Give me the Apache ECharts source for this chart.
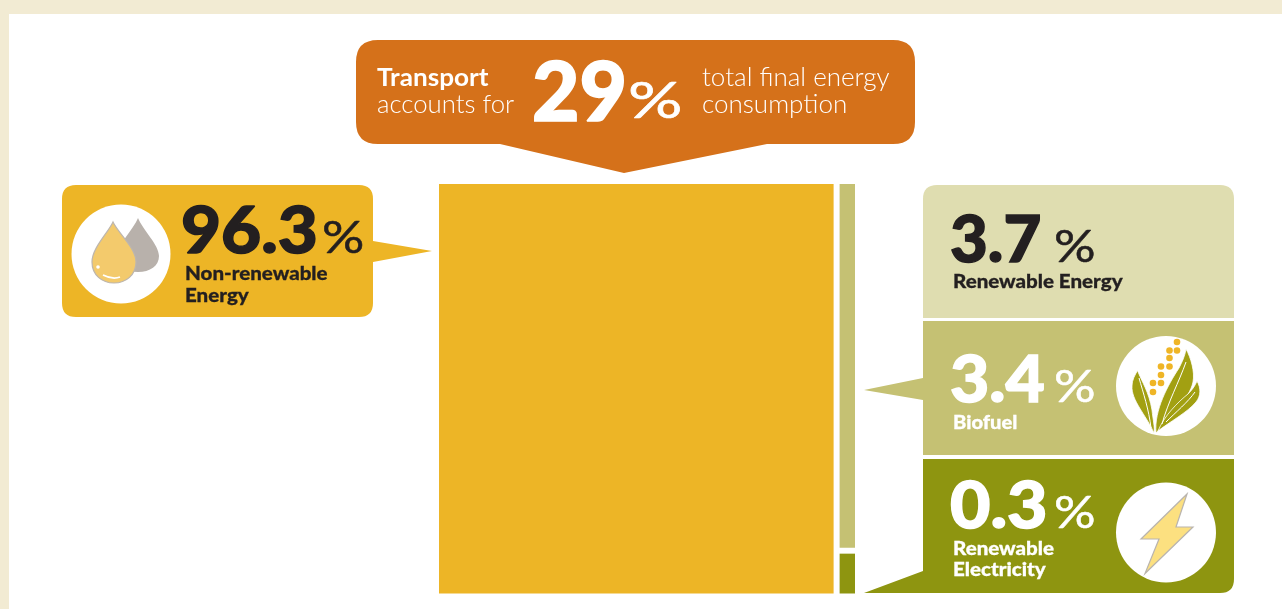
<!DOCTYPE html>
<html>
<head>
<meta charset="utf-8">
<style>html,body{margin:0;padding:0;background:#fff}#chart{width:1282px;height:609px}</style>
<script src="https://cdn.jsdelivr.net/npm/echarts@6/dist/echarts.min.js"></script>
</head>
<body>
<div id="chart"></div>
<script>
// Chart data
const shareLabels = ['96.3', '3.7', '3.4', '0.3'];
const shareNames = ['Non-renewable\nEnergy', 'Renewable Energy', 'Biofuel', 'Renewable\nElectricity'];
const transportShare = '29';
const transportLead = ['Transport', 'accounts for'];
const transportTail = ['total final energy', 'consumption'];
// Width of each column along the 0-100 axis
const columnWidths = [96.3, 3.7];
// Heights of the tiles as drawn in the picture (not to scale with their labels)
const renewableDrawnHeights = [3.34, 0.36];
const tileNames = ['Non-renewable Energy', 'Biofuel', 'Renewable Electricity'];
const tileColors = ['#EDB526', '#C5C173', '#8E9510'];

const colTotal = renewableDrawnHeights[0] + renewableDrawnHeights[1];
const tiles = [
  [0, columnWidths[0], 0, colTotal, 0],
  [columnWidths[0], columnWidths[0] + columnWidths[1], 0, renewableDrawnHeights[0], 1],
  [columnWidths[0], columnWidths[0] + columnWidths[1], renewableDrawnHeights[0], colTotal, 2]
];

const FONT = 'Lato, "Open Sans", sans-serif';
const DARK = '#231F20', WHITE = '#FFFFFF';
function t(x, base, text, size, weight, fill, extra) {
  const o = extra || {};
  const lines = String(text).split('\n');
  const lh = o.lh || size;
  return lines.map((s, i) => {
    const style = {
      x: x, y: base + i * lh - size * 0.33, text: s, fill: fill,
      font: weight + ' ' + size + 'px ' + FONT,
      verticalAlign: 'middle', align: 'left'
    };
    if (o.bold) { style.stroke = fill; style.lineWidth = o.bold; }
    return {
      type: 'text', z: 10, silent: true,
      originX: x, originY: 0, scaleX: o.sx || 1,
      style: style
    };
  });
}
let shapeId = 0;
function p(d, fill, extra) {
  const name = 'decorShape' + (shapeId++);
  echarts.graphic.registerShape(name, echarts.graphic.extendPath(d, {}));
  return {
    type: name, z: 5, silent: true,
    style: Object.assign({ fill: fill }, extra || {})
  };
}
function circle(cx, cy, r, fill) {
  return { type: 'circle', z: 6, silent: true, shape: { cx: cx, cy: cy, r: r }, style: { fill: fill } };
}

const LEAF = '#A2A012';
const ICON_DX = -4;
const corn = [[1181,342],[1173.5,350.5],[1181,350.5],[1173.5,358],[1165,366.5],[1173.5,366.5],[1165,375],[1157,383],[1165,383],[1157,392]];
const leafEdge = { stroke: '#FFFFFF', lineWidth: 0.8 };
const vein = { stroke: '#FFFFFF', lineWidth: 1 };

const graphics = [
  { type: 'rect', z: 0, silent: true, shape: { x: 0, y: 0, width: 1282, height: 609 }, style: { fill: '#F2EBD3' } },
  { type: 'rect', z: 1, silent: true, shape: { x: 9, y: 14, width: 1273, height: 595 }, style: { fill: '#FFFFFF' } },

  // Transport callout
  p('M378 40 H893 Q915 40 915 62 V122 Q915 144 893 144 H767 L624 173 L500 144 H378 Q356 144 356 122 V62 Q356 40 378 40 Z', '#D5711A'),
  ...t(377, 86, transportLead[0], 24, 700, WHITE, { sx: 1.09 }),
  ...t(377, 113, transportLead[1], 26, 300, WHITE, { sx: 0.99 }),
  ...t(532, 122, transportShare, 82, 900, WHITE, { bold: 1.6, sx: 1 }),
  ...t(628, 118, '%', 50, 400, WHITE, { sx: 1.36, bold: 0.6 }),
  ...t(702, 86, transportTail[0], 26, 300, WHITE),
  ...t(702, 113, transportTail[1], 26, 300, WHITE),

  // Non-renewable callout
  p('M76 185 H359 Q373 185 373 199 V241 L432 251 L373 262 V303 Q373 317 359 317 H76 Q62 317 62 303 V199 Q62 185 76 185 Z', '#EDB526'),
  circle(121, 254, 49.5, WHITE),
  { ...p('M138 218 C143 230 159 245 159 256 C159 266 150 272 138 272 C126 272 117 266 117 256 C117 245 133 230 138 218 Z', '#B8B1AB'), z: 7 },
  { ...p('M113 222 C118 233 136 248 136 262 C136 275 126 283 114 283 C102 283 92 275 92 262 C92 248 108 233 113 222 Z', '#F3CA6C', { stroke: '#BDB6AE', lineWidth: 1.2 }), z: 8 },
  { ...p('M103 275 C109 278 115 279 120 277', 'none', { stroke: '#FFFFFF', lineWidth: 1.8 }), z: 9 },
  { ...circle(98, 267, 1.8, WHITE), z: 9 },
  ...t(181, 253, shareLabels[0], 64, 900, DARK, { sx: 1.08, bold: 1.4 }),
  ...t(322, 253, '%', 44, 400, DARK, { sx: 1.2, bold: 0.5 }),
  ...t(185, 280, shareNames[0], 19, 900, DARK, { lh: 22, sx: 1.08, bold: 0.3 }),

  // Renewable panels
  p('M937 185 H1220 Q1234 185 1234 199 V318 H923 V199 Q923 185 937 185 Z', '#DFDDB0'),
  ...t(950, 262, shareLabels[1], 64, 900, DARK, { sx: 1.02, bold: 1.4 }),
  ...t(1054, 262, '%', 44, 400, DARK, { sx: 1.18, bold: 0.5 }),
  ...t(953, 288, shareNames[1], 19, 900, DARK, { sx: 1.08, bold: 0.3 }),

  p('M923 321 H1234 V455 H923 V400 L864 390 L923 378 Z', '#C5C173'),
  ...t(950, 402, shareLabels[2], 64, 900, WHITE, { sx: 1.06, bold: 1.4 }),
  ...t(1054, 402, '%', 44, 400, WHITE, { sx: 1.18, bold: 0.5 }),
  ...t(953, 429, shareNames[2], 19, 900, WHITE, { sx: 1.06, bold: 0.3 }),
  { ...circle(1170, 386, 50, WHITE), x: ICON_DX },
  { ...p('M1158 433 C1150 415 1135 400 1136 386 C1136 380 1139 375 1141.5 370.5 C1146 382 1153 392 1156 410 C1157 420 1159 427 1158 433 Z', LEAF, leafEdge), z: 7, x: ICON_DX },
  { ...p('M1160 433 C1158 410 1172 385 1183 368 C1186 362 1189 356 1190 349 C1195 358 1199 372 1197 382 C1194 398 1172 420 1160 433 Z', LEAF, leafEdge), z: 7, x: ICON_DX },
  { ...p('M1162 431 C1168 416 1182 402 1192 394 C1196 390 1199 386 1201 381 C1205 388 1205 396 1200 402 C1192 412 1172 423 1162 431 Z', LEAF, leafEdge), z: 7, x: ICON_DX },
  { ...p('M1155 428 C1153 410 1147 392 1143 378', 'none', vein), z: 8, x: ICON_DX },
  { ...p('M1166 424 C1172 402 1183 382 1190 362', 'none', vein), z: 8, x: ICON_DX },
  { ...p('M1170 422 C1180 412 1192 402 1199 392', 'none', vein), z: 8, x: ICON_DX },
  ...corn.map(c => ({ ...circle(c[0], c[1], 3.3, '#EFB526'), z: 9, x: ICON_DX })),

  p('M923 459 H1234 V579 Q1234 593 1220 593 H864 L923 571 Z', '#8E9510'),
  ...t(950, 528, shareLabels[3], 64, 900, WHITE, { sx: 1.09, bold: 1.4 }),
  ...t(1054, 528, '%', 44, 400, WHITE, { sx: 1.18, bold: 0.5 }),
  ...t(953, 555, shareNames[3], 19, 900, WHITE, { lh: 21, sx: 1.08, bold: 0.3 }),
  { ...circle(1170, 532.5, 50, WHITE), x: ICON_DX },
  { ...p('M1190 494 L1179 527 L1196 527 L1148 573.5 L1162 539 L1144 539 Z', '#FCE080', { stroke: '#B9B4AE', lineWidth: 1.2 }), z: 7, x: -3 }
];

const chart = echarts.init(document.getElementById('chart'), null, { renderer: 'canvas' });
const GAP = 6;
chart.setOption({
  animation: false,
  backgroundColor: '#FFFFFF',
  tooltip: { show: false },
  grid: { left: 439, top: 184, width: 416, height: 409.5, containLabel: false },
  xAxis: { type: 'value', min: 0, max: 100, show: false },
  yAxis: { type: 'value', min: 0, max: colTotal, inverse: true, show: false },
  graphic: { elements: graphics },
  series: [{
    type: 'custom',
    name: 'Transport energy',
    coordinateSystem: 'cartesian2d',
    z: 20,
    encode: { x: [0, 1], y: [2, 3] },
    data: tiles.map((c, i) => ({ name: tileNames[i], value: c })),
    renderItem: function (params, api) {
      const x0 = api.value(0), x1 = api.value(1), y0 = api.value(2), y1 = api.value(3);
      const a = api.coord([x0, y0]);
      const b = api.coord([x1, y1]);
      const right = x1 < 100 ? b[0] - GAP : b[0];
      const bottom = y1 < colTotal ? b[1] - GAP : b[1];
      return {
        type: 'rect',
        shape: { x: a[0], y: a[1], width: right - a[0], height: bottom - a[1] },
        style: { fill: tileColors[api.value(4)] }
      };
    }
  }]
});
</script>
</body>
</html>
